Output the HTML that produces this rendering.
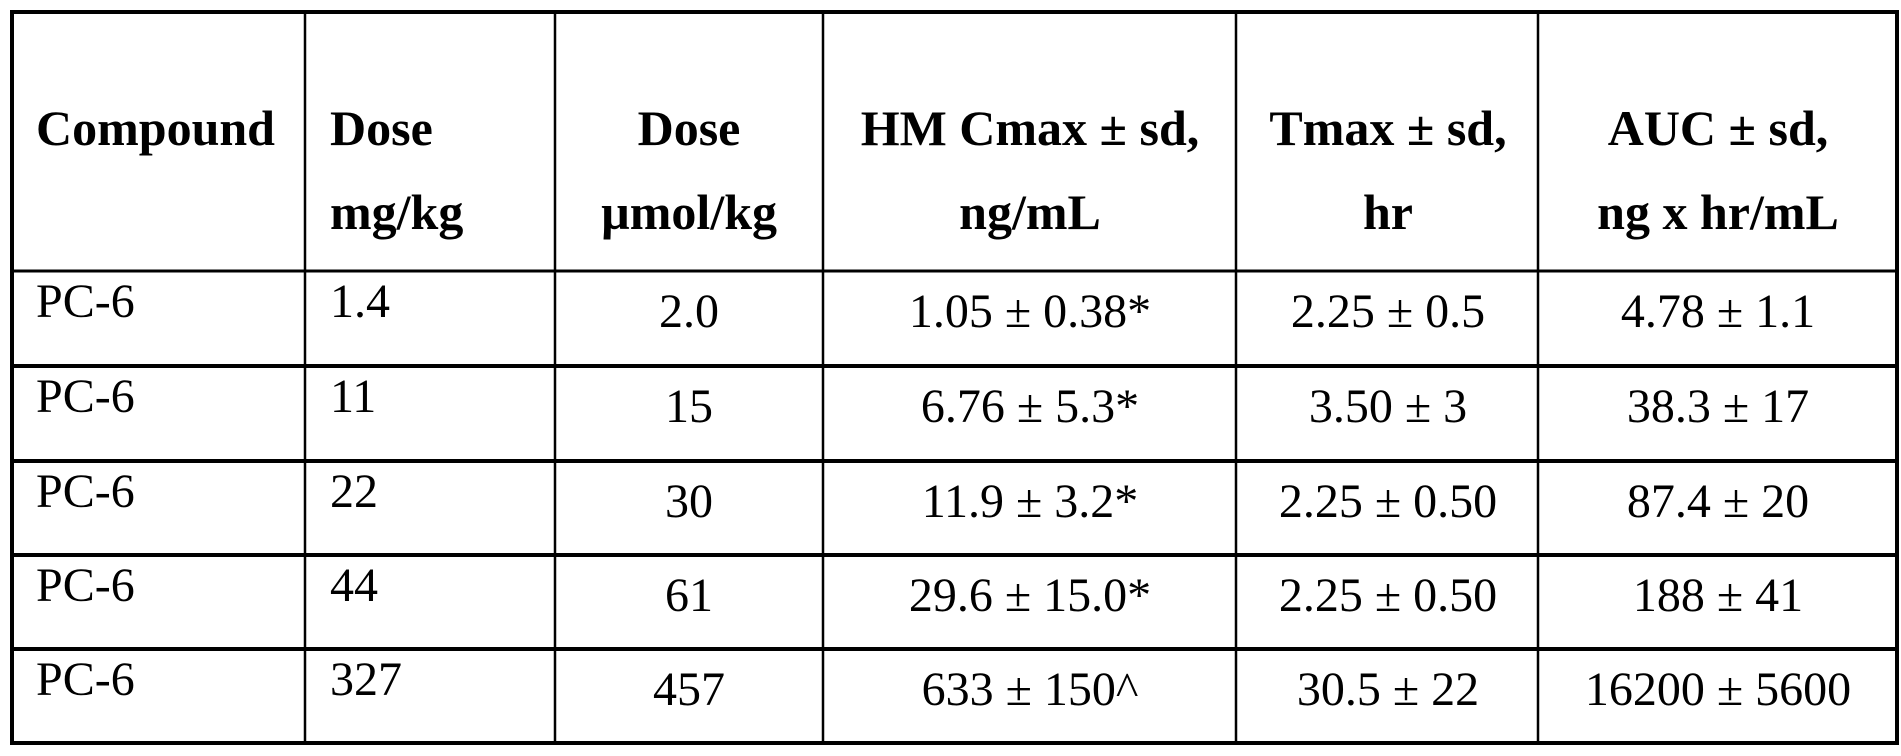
<!DOCTYPE html>
<html><head><meta charset="utf-8"><style>
html,body{margin:0;padding:0;background:#fff;}
svg{display:block;}
text{font-family:"Liberation Serif","Times New Roman",serif;font-size:48px;fill:#000;}
.b{font-weight:bold;font-size:50px;}
.m{text-anchor:middle;}
</style></head><body>
<svg width="1901" height="756" viewBox="0 0 1901 756" xmlns="http://www.w3.org/2000/svg">
<g stroke="#000" fill="none">
<rect x="12" y="12" width="1885" height="731" stroke-width="4"/>
<line x1="12" y1="271" x2="1897" y2="271" stroke-width="3"/>
<line x1="12" y1="366" x2="1897" y2="366" stroke-width="4"/>
<line x1="12" y1="461" x2="1897" y2="461" stroke-width="4"/>
<line x1="12" y1="555" x2="1897" y2="555" stroke-width="4"/>
<line x1="12" y1="649" x2="1897" y2="649" stroke-width="4"/>
<line x1="305" y1="12" x2="305" y2="743" stroke-width="2.5"/>
<line x1="555" y1="12" x2="555" y2="743" stroke-width="2.5"/>
<line x1="823" y1="12" x2="823" y2="743" stroke-width="2.5"/>
<line x1="1236" y1="12" x2="1236" y2="743" stroke-width="2.5"/>
<line x1="1538" y1="12" x2="1538" y2="743" stroke-width="2.5"/>
</g>
<text class="b" x="36" y="145">Compound</text>
<text class="b" x="330" y="145">Dose</text>
<text class="b" x="330" y="229">mg/kg</text>
<text class="b m" x="689" y="145">Dose</text>
<text class="b m" x="689" y="229">µmol/kg</text>
<text class="b m" x="1030" y="145">HM Cmax ± sd,</text>
<text class="b m" x="1030" y="229">ng/mL</text>
<text class="b m" x="1388" y="145">Tmax ± sd,</text>
<text class="b m" x="1388" y="229">hr</text>
<text class="b m" x="1718" y="145">AUC ± sd,</text>
<text class="b m" x="1718" y="229">ng x hr/mL</text>

<text x="36" y="317">PC-6</text><text x="330" y="317">1.4</text>
<text class="m" x="689" y="327">2.0</text><text class="m" x="1030" y="327">1.05 ± 0.38*</text>
<text class="m" x="1388" y="327">2.25 ± 0.5</text><text class="m" x="1718" y="327">4.78 ± 1.1</text>

<text x="36" y="412">PC-6</text><text x="330" y="412">11</text>
<text class="m" x="689" y="422">15</text><text class="m" x="1030" y="422">6.76 ± 5.3*</text>
<text class="m" x="1388" y="422">3.50 ± 3</text><text class="m" x="1718" y="422">38.3 ± 17</text>

<text x="36" y="507">PC-6</text><text x="330" y="507">22</text>
<text class="m" x="689" y="517">30</text><text class="m" x="1030" y="517">11.9 ± 3.2*</text>
<text class="m" x="1388" y="517">2.25 ± 0.50</text><text class="m" x="1718" y="517">87.4 ± 20</text>

<text x="36" y="601">PC-6</text><text x="330" y="601">44</text>
<text class="m" x="689" y="611">61</text><text class="m" x="1030" y="611">29.6 ± 15.0*</text>
<text class="m" x="1388" y="611">2.25 ± 0.50</text><text class="m" x="1718" y="611">188 ± 41</text>

<text x="36" y="695">PC-6</text><text x="330" y="695">327</text>
<text class="m" x="689" y="705">457</text><text class="m" x="1030" y="705">633 ± 150^</text>
<text class="m" x="1388" y="705">30.5 ± 22</text><text class="m" x="1718" y="705">16200 ± 5600</text>
</svg>
</body></html>
